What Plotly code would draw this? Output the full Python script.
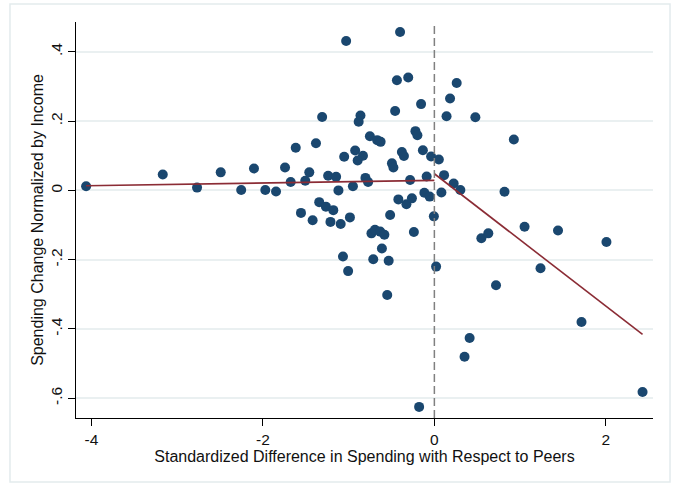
import numpy as np
import plotly.graph_objects as go

# Standardized spending difference vs. peers (x) and spending change / income (y)
spend_diff = [
    -4.062, -3.168, -2.768, -2.492, -2.253, -2.104, -1.972, -1.847, -1.742, -1.676,
    -1.617, -1.556, -1.506, -1.459, -1.420, -1.381, -1.343, -1.309, -1.265, -1.239,
    -1.179, -1.212, -1.146, -1.119, -1.093, -1.066, -1.006, -0.985, -1.029, -1.052,
    -0.950, -0.924, -0.862, -0.883, -0.833, -0.895, -0.804, -0.773, -0.752, -0.667,
    -0.627, -0.734, -0.693, -0.632, -0.583, -0.612, -0.713, -0.533, -0.550, -0.516,
    -0.495, -0.478, -0.458, -0.437, -0.400, -0.420, -0.379, -0.355, -0.326, -0.305,
    -0.283, -0.262, -0.239, -0.221, -0.198, -0.178, -0.155, -0.134, -0.117, -0.090,
    -0.055, -0.038, -0.006, 0.020, 0.052, 0.082, 0.113, 0.142, 0.183, 0.225,
    0.260, 0.303, 0.352, 0.411, 0.478, 0.548, 0.629, 0.719, 0.818, 0.927,
    1.052, 1.238, 1.442, 1.716, 2.007, 2.428,
]
spend_change = [
    0.012, 0.046, 0.008, 0.052, 0.001, 0.063, 0.001, -0.003, 0.066, 0.024,
    0.123, -0.065, 0.028, 0.052, -0.086, 0.136, -0.034, 0.212, -0.047, 0.042,
    -0.057, -0.091, 0.039, 0.000, -0.097, -0.191, -0.233, -0.078, 0.431, 0.097,
    0.012, 0.115, 0.216, 0.198, 0.100, 0.086, 0.036, 0.024, 0.156, 0.145,
    0.140, -0.124, -0.114, -0.119, -0.128, -0.168, -0.199, -0.203, -0.302, -0.071,
    0.078, 0.066, 0.229, 0.318, 0.457, -0.026, 0.111, 0.099, -0.040, 0.326,
    0.030, -0.023, -0.120, 0.171, 0.159, -0.625, 0.249, 0.116, -0.007, 0.040,
    -0.018, 0.098, -0.075, -0.220, 0.089, -0.006, 0.044, 0.214, 0.265, 0.020,
    0.310, 0.001, -0.480, -0.426, 0.211, -0.138, -0.124, -0.274, -0.004, 0.147,
    -0.105, -0.225, -0.116, -0.380, -0.149, -0.582,
]

# Piecewise linear fit on each side of the cutoff at zero
fit_left_intercept, fit_left_slope = 0.029, 0.0039
fit_right_intercept, fit_right_slope = 0.048, -0.191

x_ticks = [-4, -2, 0, 2]
x_tick_text = ["-4", "-2", "0", "2"]
y_ticks = [0.4, 0.2, 0.0, -0.2, -0.4, -0.6]
y_tick_text = [".4", ".2", "0", "-.2", "-.4", "-.6"]

x = np.array(spend_diff)
left_x = np.array([x.min(), 0.0])
right_x = np.array([0.0, x.max()])
left_y = fit_left_intercept + fit_left_slope * left_x
right_y = fit_right_intercept + fit_right_slope * right_x

NAVY = "#1a476f"
MAROON = "#8b2c35"
GRID = "#eaf0f1"
FONT = "Liberation Sans, Arial, Helvetica, sans-serif"

fig = go.Figure()
fig.add_trace(go.Scatter(
    x=spend_diff, y=spend_change, mode="markers",
    marker=dict(color=NAVY, size=10, line=dict(width=0)),
    showlegend=False, hoverinfo="x+y",
))
fig.add_trace(go.Scatter(
    x=left_x, y=left_y, mode="lines",
    line=dict(color=MAROON, width=1.6), showlegend=False,
))
fig.add_trace(go.Scatter(
    x=right_x, y=right_y, mode="lines",
    line=dict(color=MAROON, width=1.6), showlegend=False,
))

# cutoff marker at zero
fig.add_shape(type="line", xref="x", yref="paper", x0=0, x1=0, y0=0, y1=1,
              line=dict(color="#808080", width=1.5, dash="8px,4px"), layer="above")

# outer graph-region frame
fig.add_shape(type="rect", xref="paper", yref="paper",
              x0=-0.1144, x1=1.0295, y0=-0.1616, y1=1.0455,
              line=dict(color="#e3ebed", width=1.5), fillcolor="rgba(0,0,0,0)",
              layer="below")

fig.update_layout(
    width=678, height=483,
    margin=dict(l=76, r=25, t=22, b=65),
    paper_bgcolor="white", plot_bgcolor="white",
    font=dict(family=FONT, size=15, color="#111111"),
    xaxis=dict(
        range=[-4.18, 2.55], tickmode="array", tickvals=x_ticks, ticktext=x_tick_text,
        showgrid=False, zeroline=False, showline=True, linecolor="black", linewidth=1.2,
        ticks="outside", ticklen=7, tickcolor="black", tickwidth=1.2,
        tickfont=dict(size=15.5),
        title=dict(text="Standardized Difference in Spending with Respect to Peers",
                   font=dict(size=16), standoff=3),
    ),
    yaxis=dict(
        range=[-0.657, 0.486], tickmode="array", tickvals=y_ticks, ticktext=y_tick_text,
        showgrid=True, gridcolor=GRID, gridwidth=1.5, zeroline=False,
        showline=True, linecolor="black", linewidth=1.2,
        ticks="outside", ticklen=7, tickcolor="black", tickwidth=1.2,
        tickangle=-90, tickfont=dict(size=15.5),
        title=dict(text="Spending Change Normalized by Income",
                   font=dict(size=16), standoff=0),
    ),
)

fig.write_html("out.html")
